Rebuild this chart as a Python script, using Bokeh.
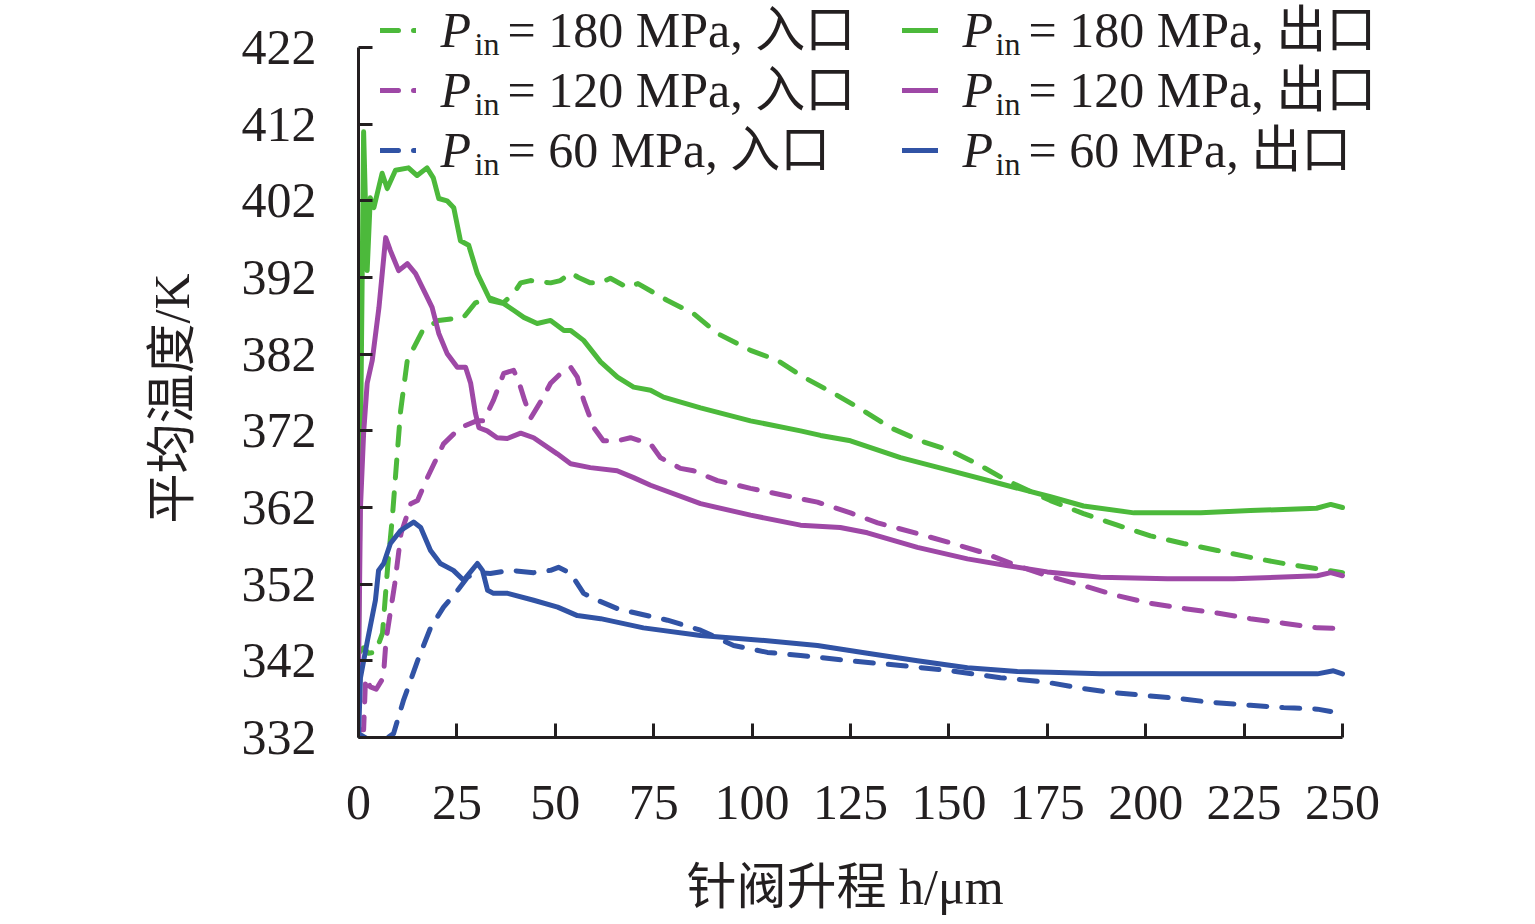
from bokeh.plotting import figure
from bokeh.models import Range1d, FixedTicker, Legend, LegendItem, Label, Title
from bokeh.core.properties import value
from bokeh.embed import file_html
from bokeh.resources import INLINE

# ---------------- data ----------------
x_ticks = [0, 25, 50, 75, 100, 125, 150, 175, 200, 225, 250]
y_ticks = [332, 342, 352, 362, 372, 382, 392, 402, 412, 422]

# P_in = 180 MPa, outlet (solid green)
h_g_out = [0, 1.3, 2.2, 3.0, 3.9, 6.0, 7.3, 9.4, 12.7, 14.9, 17.4, 19.0, 20.4, 22.5, 24.2,
           25.9, 28.0, 30.2, 33.5, 36.9, 39.5, 42.0, 45.4, 48.8, 52.2, 53.9, 57.2, 61.5,
           65.8, 69.9, 74.2, 77.5, 86.9, 99.6, 112.3, 117.4, 125.0, 137.7, 150.4, 163.1,
           175.8, 184.2, 197.0, 214.0, 226.6, 243.4, 247.0, 250.0]
t_g_out = [344.0, 411.0, 392.9, 402.4, 401.1, 405.6, 403.6, 406.0, 406.3, 405.3, 406.3, 405.0,
           402.3, 402.0, 401.1, 396.8, 396.2, 392.5, 389.0, 388.6, 387.7, 386.8, 386.0, 386.4,
           385.1, 385.1, 383.8, 381.0, 379.0, 377.7, 377.3, 376.4, 375.0, 373.3, 372.0, 371.4,
           370.7, 368.5, 366.8, 365.1, 363.4, 362.2, 361.3, 361.3, 361.6, 361.9, 362.4, 362.0]

# P_in = 180 MPa, inlet (dashed green)
h_g_in = [0, 1.3, 2.5, 4.3, 6.1, 7.4, 8.6, 9.9, 10.7, 12.4, 16.3, 20.3, 26.7, 29.7, 33.5,
          36.8, 39.4, 41.2, 43.7, 48.8, 51.3, 53.9, 55.9, 58.9, 61.5, 64.0, 68.3, 71.0, 78.5,
          85.1, 91.2, 99.6, 106.4, 113.1, 120.7, 126.8, 135.2, 142.8, 150.4, 157.2, 164.8,
          175.8, 184.2, 192.8, 201.2, 209.6, 218.2, 226.6, 235.0, 243.6, 250.0]
t_g_in = [343.0, 343.7, 343.0, 343.1, 345.6, 354.2, 360.7, 369.4, 374.6, 381.2, 385.1, 386.4,
          386.8, 388.7, 389.3, 388.7, 389.9, 391.3, 391.6, 391.3, 391.6, 392.6, 392.0, 391.3,
          391.3, 391.9, 390.7, 391.2, 389.0, 387.3, 384.7, 382.5, 381.2, 379.0, 376.9, 375.1,
          372.4, 370.7, 369.4, 367.7, 365.5, 362.9, 361.2, 359.7, 358.3, 357.3, 356.4, 355.5,
          354.7, 354.0, 353.5]

# P_in = 120 MPa, outlet (solid magenta)
h_m_out = [0, 0.5, 1.3, 2.2, 3.5, 5.2, 6.9, 8.1, 10.2, 12.4, 14.5, 17.0, 18.7, 20.4, 22.5,
           25.1, 27.2, 28.5, 29.7, 30.6, 32.7, 35.2, 37.8, 41.2, 44.5, 50.5, 53.9, 58.9, 65.7,
           69.9, 74.2, 86.9, 99.6, 112.3, 122.4, 129.3, 142.0, 154.7, 165.0, 175.0, 188.5,
           205.5, 222.3, 243.6, 247.0, 250.0]
t_m_out = [340.0, 362.0, 371.7, 378.2, 381.2, 388.1, 397.2, 395.5, 392.9, 393.8, 392.5, 389.9,
           388.1, 384.7, 382.1, 380.3, 380.3, 378.2, 374.3, 372.4, 372.0, 371.1, 371.0, 371.7,
           371.1, 369.0, 367.7, 367.2, 366.8, 365.9, 364.9, 362.5, 361.0, 359.7, 359.4, 358.7,
           356.8, 355.3, 354.4, 353.6, 352.9, 352.7, 352.7, 353.1, 353.5, 353.1]

# P_in = 120 MPa, inlet (dashed magenta)
h_m_in = [0, 1.3, 1.8, 3.0, 4.5, 6.3, 7.0, 9.2, 10.8, 13.3, 15.0, 17.5, 21.6, 25.8, 30.0,
          31.8, 34.3, 36.9, 39.4, 40.6, 42.2, 43.8, 46.5, 48.8, 52.2, 53.9, 55.6, 57.2, 59.8,
          62.2, 65.8, 69.1, 71.6, 74.2, 76.7, 81.8, 85.1, 91.2, 99.6, 108.0, 116.6, 125.0,
          131.9, 142.0, 150.4, 158.8, 167.4, 175.0, 184.2, 192.8, 201.2, 210.0, 218.5, 226.6,
          235.0, 243.6, 250.0]
t_m_in = [333.0, 333.0, 339.8, 338.6, 338.3, 339.8, 344.7, 352.0, 358.6, 362.5, 362.9, 365.9,
          370.3, 372.4, 373.3, 373.3, 376.0, 379.5, 379.9, 378.6, 376.0, 373.7, 376.0, 378.2,
          379.9, 380.3, 379.0, 376.0, 372.4, 370.7, 370.7, 371.1, 370.7, 370.3, 368.5, 367.1,
          366.8, 365.5, 364.5, 363.6, 362.7, 361.3, 360.0, 358.6, 357.4, 356.1, 354.4, 353.1,
          351.8, 350.5, 349.5, 348.8, 348.2, 347.5, 346.9, 346.3, 346.2]

# P_in = 60 MPa, outlet (solid blue)
h_b_out = [0, 0.5, 2.3, 4.3, 5.1, 6.4, 8.1, 10.7, 14.0, 15.8, 18.3, 20.8, 24.1, 26.7, 30.2,
           31.5, 32.8, 34.3, 37.9, 44.5, 50.6, 55.6, 61.5, 72.4, 86.9, 102.1, 116.6, 129.3,
           142.0, 154.7, 167.4, 175.8, 188.5, 205.5, 243.6, 247.7, 250.0]
t_b_out = [332.0, 339.8, 344.7, 349.9, 353.8, 354.7, 357.3, 359.0, 360.1, 359.4, 356.4, 354.7,
           353.8, 352.5, 354.7, 353.8, 351.2, 350.8, 350.8, 349.9, 349.0, 347.9, 347.5, 346.3,
           345.3, 344.7, 344.0, 343.0, 342.0, 341.1, 340.6, 340.5, 340.3, 340.3, 340.3, 340.7,
           340.3]

# P_in = 60 MPa, inlet (dashed blue)
h_b_in = [0, 3.0, 6.4, 8.9, 11.4, 15.0, 18.3, 21.6, 25.2, 27.7, 30.0, 33.5, 38.6, 44.5, 48.8,
          50.8, 53.9, 57.2, 60.7, 65.8, 69.9, 78.5, 86.9, 95.3, 103.9, 112.3, 125.0, 137.7,
          150.4, 163.1, 175.0, 182.7, 191.0, 199.4, 208.0, 216.5, 226.6, 235.0, 243.6, 247.0]
t_b_in = [332.5, 331.6, 331.6, 332.5, 336.8, 342.0, 346.3, 349.0, 351.2, 352.9, 353.5, 353.4,
          353.8, 353.5, 353.8, 354.2, 353.4, 350.8, 349.9, 348.8, 348.3, 347.3, 346.0, 344.0,
          343.1, 342.7, 342.0, 341.4, 340.7, 339.8, 339.2, 338.5, 337.9, 337.5, 337.1, 336.6,
          336.2, 335.9, 335.7, 335.4]

pressures = ["180", "120", "60"]
places = ["入口", "出口"]          # inlet, outlet
colors = ["#4cb93b", "#9e48a6", "#3153a5"]
x_title = "针阀升程 h/μm"
y_title = "平均温度/K"

# ---------------- figure ----------------
FONT = "'Liberation Serif', 'Noto Sans CJK SC', serif"
INK = "#231f20"

W, H = 1519, 920
FL, FB = 358, 183                 # frame left / bottom borders
PX_PER_X = 984 / 250              # pixel scale of the data axes
PX_PER_Y = 690 / 90
x_end = (W - FL) / PX_PER_X
y_end = 332 + (H - FB) / PX_PER_Y

p = figure(width=W, height=H, x_range=Range1d(0, x_end), y_range=Range1d(332, y_end),
           output_backend="svg", toolbar_location=None,
           min_border_left=FL, min_border_right=0, min_border_top=0, min_border_bottom=FB)
p.outline_line_color = None
p.grid.visible = False
p.background_fill_color = "white"
p.border_fill_color = "white"

for ax in (p.xaxis[0], p.yaxis[0]):
    ax.axis_line_width = 3
    ax.axis_line_color = INK
    ax.major_tick_line_width = 3
    ax.major_tick_line_color = INK
    ax.major_tick_in = 14
    ax.major_tick_out = 0
    ax.minor_tick_line_color = None
    ax.major_label_text_font = FONT
    ax.major_label_text_font_size = "50px"
    ax.major_label_text_color = INK

p.xaxis.bounds = (0, 250)
p.yaxis.bounds = (332, 422)
p.xaxis.ticker = FixedTicker(ticks=x_ticks)
p.yaxis.ticker = FixedTicker(ticks=y_ticks)
p.xaxis.major_label_standoff = 48
p.yaxis.major_label_standoff = 42
# blank spacer label: leaves room between tick labels and the x title
p.xaxis.axis_label = "\u00a0"
p.xaxis.axis_label_text_font_size = "4px"
p.xaxis.axis_label_standoff = 27

# axis titles as side titles, so they can be centred on the axis extent
p.add_layout(Title(text=x_title, align="left", offset=328, standoff=0,
                   text_font=FONT, text_font_size="50px", text_font_style="normal",
                   text_color=INK), "below")
p.add_layout(Title(text=y_title, align="left", offset=214, standoff=78,
                   text_font=FONT, text_font_size="50px", text_font_style="normal",
                   text_color=INK), "left")

series = [
    (h_g_in, t_g_in, h_g_out, t_g_out),
    (h_m_in, t_m_in, h_m_out, t_m_out),
    (h_b_in, t_b_in, h_b_out, t_b_out),
]

dashed, solid = [], []
for (hi, ti, ho, to), c in zip(series, colors):
    rd = p.line(hi, ti, line_color=c, line_width=5, line_dash="18 15",
                line_cap="round", line_join="round")
    rs = p.line(ho, to, line_color=c, line_width=5, line_cap="round", line_join="round")
    dashed.append(rd)
    solid.append(rs)

def make_legend(rends, x):
    return Legend(items=[LegendItem(label=value(" "), renderers=[r]) for r in rends],
                  location=(x, 557), orientation="vertical", padding=0, spacing=0, margin=0,
                  glyph_width=36, glyph_height=60, label_height=60, label_width=0,
                  label_standoff=0, label_text_font_size="10px",
                  border_line_alpha=0, background_fill_alpha=0, click_policy="none")

p.add_layout(make_legend(dashed, 22))
p.add_layout(make_legend(solid, 544))

# legend texts: italic P with subscript "in" (y = top of the text box)
top_y = [736, 676, 616]
px = [82, 604]
inx = [116, 637]
restx = [149, 670]
for col, place in enumerate(places):
    for row, pr in enumerate(pressures):
        p.add_layout(Label(x=px[col], y=top_y[row], x_units="screen", y_units="screen",
                           text="P", text_font=FONT, text_font_size="50px",
                           text_font_style="italic", text_color=INK, text_baseline="top"))
        p.add_layout(Label(x=inx[col], y=top_y[row] - 24, x_units="screen", y_units="screen",
                           text="in", text_font=FONT, text_font_size="32px",
                           text_color=INK, text_baseline="top"))
        p.add_layout(Label(x=restx[col], y=top_y[row], x_units="screen", y_units="screen",
                           text=f"= {pr} MPa, {place}", text_font=FONT, text_font_size="50px",
                           text_color=INK, text_baseline="top"))

open("out.html", "w").write(file_html(p, INLINE))
